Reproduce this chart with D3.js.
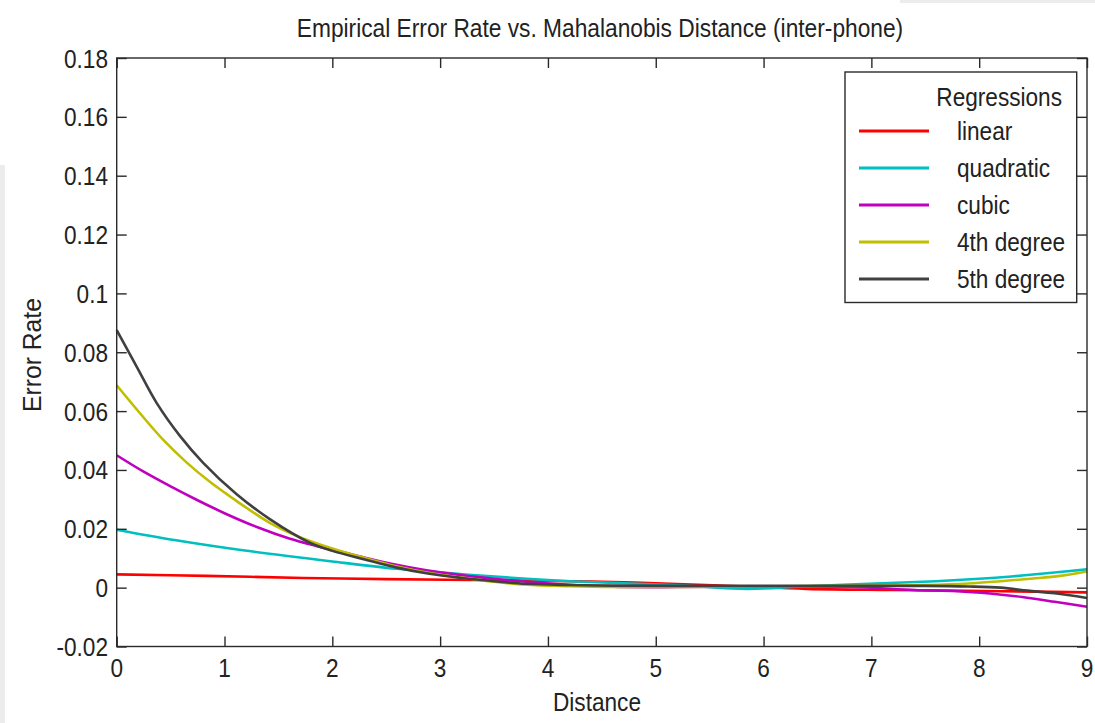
<!DOCTYPE html>
<html><head><meta charset="utf-8">
<script src="https://cdn.jsdelivr.net/npm/d3@7"></script>
<style>
html,body{margin:0;padding:0;background:#fff;}
svg{display:block;}
text{font-family:"Liberation Sans",Arial,sans-serif;fill:#222;}
</style></head>
<body><svg id="c" width="1095" height="723"></svg>
<script>
// ---- data ----
const titleText = "Empirical Error Rate vs. Mahalanobis Distance (inter-phone)";
const xLabel = "Distance";
const yLabel = "Error Rate";
const legendTitle = "Regressions";
const seriesNames = ["linear", "quadratic", "cubic", "4th degree", "5th degree"];
const seriesColors = ["#ff0000", "#00bfbf", "#bf00bf", "#bfbf00", "#404040"];

const xTicks = [0, 1, 2, 3, 4, 5, 6, 7, 8, 9];
const xTickLabels = ["0", "1", "2", "3", "4", "5", "6", "7", "8", "9"];
const yTicks = [-0.02, 0, 0.02, 0.04, 0.06, 0.08, 0.1, 0.12, 0.14, 0.16, 0.18];
const yTickLabels = ["-0.02", "0", "0.02", "0.04", "0.06", "0.08", "0.1", "0.12", "0.14", "0.16", "0.18"];

const linearX = [0, 0.83, 1.73, 2.5, 3.5, 4.4, 5.0, 5.6, 6.4, 7.2, 8.2, 9];
const linearY = [0.0045, 0.0040, 0.0033, 0.0029, 0.0025, 0.0021, 0.0015, 0.0007, -0.0004, -0.0008, -0.0012, -0.0016];

const quadX = [0, 0.55, 1.17, 2.0, 2.6, 3.3, 3.8, 4.2, 4.7, 5.3, 5.85, 6.4, 7.1, 7.6, 8.0, 8.3, 8.6, 9];
const quadY = [0.0197, 0.0161, 0.0127, 0.0089, 0.0064, 0.0043, 0.0030, 0.0022, 0.0015, 0.0006, -0.0004, 0.0005, 0.0015, 0.0022, 0.0030, 0.0038, 0.0048, 0.0062];

const cubicX = [0, 0.25, 0.5, 0.75, 1.0, 1.3, 1.6, 1.85, 2.1, 2.4, 2.7, 3.0, 3.4, 3.8, 4.2, 4.6, 5.2, 6.0, 6.8, 7.4, 7.8, 8.1, 8.4, 8.7, 9];
const cubicY = [0.045, 0.0394, 0.0344, 0.0297, 0.0253, 0.0206, 0.0167, 0.0142, 0.0120, 0.0093, 0.0070, 0.0052, 0.0034, 0.0020, 0.0010, 0.0003, 0.0002, 0.0004, 0.0002, -0.0008, -0.0012, -0.0020, -0.0032, -0.0048, -0.0065];

const quartX = [0, 0.22, 0.43, 0.65, 0.87, 1.11, 1.42, 1.67, 2.0, 2.3, 2.6, 2.9, 3.2, 3.5, 3.8, 4.2, 4.6, 5.2, 6.0, 7.0, 7.5, 7.9, 8.2, 8.5, 8.75, 9];
const quartY = [0.0688, 0.0591, 0.0503, 0.0425, 0.0358, 0.0295, 0.0220, 0.0176, 0.0133, 0.0101, 0.0072, 0.0050, 0.0034, 0.0020, 0.0010, 0.0005, 0.0002, 0.0002, 0.0004, 0.0007, 0.0009, 0.0014, 0.0022, 0.0031, 0.0040, 0.0055];

const quintX = [0, 0.19, 0.37, 0.59, 0.8, 1.11, 1.42, 1.79, 2.0, 2.3, 2.6, 2.9, 3.2, 3.5, 3.8, 4.2, 4.6, 5.5, 6.5, 7.5, 7.9, 8.2, 8.45, 8.7, 9];
const quintY = [0.0875, 0.0748, 0.0628, 0.0514, 0.0425, 0.0318, 0.0233, 0.0153, 0.0125, 0.0096, 0.0068, 0.0047, 0.0033, 0.0022, 0.0013, 0.0009, 0.0007, 0.0006, 0.0006, 0.0006, 0.0004, 0.0000, -0.0010, -0.0019, -0.0035];

const seriesX = [linearX, quadX, cubicX, quartX, quintX];
const seriesY = [linearY, quadY, cubicY, quartY, quintY];

// ---- layout ----
const L = 116.7, R = 1087, T = 58, B = 646.5;
const SX = 0.87, FS = 26;
const svg = d3.select("#c");

// scan artifacts of the reference
svg.append("rect").attr("x", 0).attr("y", 165).attr("width", 5).attr("height", 558).attr("fill", "#ececec");
svg.append("rect").attr("x", 900).attr("y", 0).attr("width", 195).attr("height", 3).attr("fill", "#ececec");

const x = d3.scaleLinear().domain([0, 9]).range([L, R]);
const y = d3.scaleLinear().domain([-0.02, 0.18]).range([B, T]);

function txt(g, px, py, s, anchor, rot, sx) {
  return g.append("text")
    .attr("transform", `translate(${px},${py})` + (rot ? ` rotate(${rot})` : "") + ` scale(${sx || SX},1)`)
    .attr("text-anchor", anchor || "start")
    .style("font-size", FS + "px")
    .text(s);
}

// lines
const line = d3.line().x(d => x(d[0])).y(d => y(d[1])).curve(d3.curveCatmullRom.alpha(0.5));
seriesNames.forEach((n, i) => {
  const pts = seriesX[i].map((v, j) => [v, seriesY[i][j]]);
  svg.append("path").attr("d", line(pts)).attr("fill", "none")
    .attr("stroke", seriesColors[i]).attr("stroke-width", 2.6).attr("stroke-linejoin", "round");
});

// axes
const axisColor = "#2a2a2a";
function styleAxis(g) {
  g.select(".domain").remove();
  g.selectAll(".tick line").attr("stroke", axisColor).attr("stroke-width", 1.4);
}
const gB = svg.append("g").attr("transform", `translate(0,${B})`)
  .call(d3.axisBottom(x).tickValues(xTicks).tickSize(-10).tickFormat(""));
styleAxis(gB);
const gT = svg.append("g").attr("transform", `translate(0,${T})`)
  .call(d3.axisTop(x).tickValues(xTicks).tickSize(-10).tickFormat(""));
styleAxis(gT);
const gL = svg.append("g").attr("transform", `translate(${L},0)`)
  .call(d3.axisLeft(y).tickValues(yTicks).tickSize(-10).tickFormat(""));
styleAxis(gL);
const gR = svg.append("g").attr("transform", `translate(${R},0)`)
  .call(d3.axisRight(y).tickValues(yTicks).tickSize(-10).tickFormat(""));
styleAxis(gR);
svg.append("rect").attr("x", L).attr("y", T).attr("width", R - L).attr("height", B - T)
  .attr("fill", "none").attr("stroke", axisColor).attr("stroke-width", 1.4);

// tick labels
const labels = svg.append("g");
xTicks.forEach((v, i) => txt(labels, x(v), 677, xTickLabels[i], "middle"));
yTicks.forEach((v, i) => txt(labels, 108, y(v) + 9.5, yTickLabels[i], "end"));

// titles
txt(svg, 600, 37, titleText, "middle", 0, 0.875);
txt(svg, 597, 711, xLabel, "middle");
txt(svg, 41, 355, yLabel, "middle", -90, 0.95);

// legend
const lg = svg.append("g");
lg.append("rect").attr("x", 845).attr("y", 72).attr("width", 231.7).attr("height", 230.5)
  .attr("fill", "#fff").attr("stroke", axisColor).attr("stroke-width", 1.4);
txt(lg, 1062, 105.5, legendTitle, "end");
const legY = d3.scalePoint().domain(seriesNames).range([131, 279]);
seriesNames.forEach((n, i) => {
  lg.append("line").attr("x1", 859).attr("x2", 929).attr("y1", legY(n)).attr("y2", legY(n))
    .attr("stroke", seriesColors[i]).attr("stroke-width", 3);
  txt(lg, 957, legY(n) + 9, n, "start");
});
</script></body></html>
